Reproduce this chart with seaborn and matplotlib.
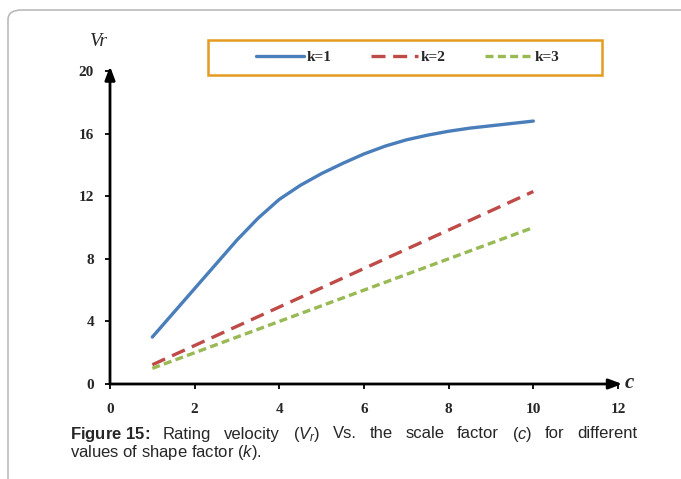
import matplotlib
matplotlib.use("Agg")
import matplotlib.pyplot as plt
import seaborn as sns
import pandas as pd
from matplotlib.patches import FancyBboxPatch, Rectangle

# --------------------------
# DATA
# --------------------------
c_k1 = [1.0, 1.5, 2.0, 2.5, 3.0, 3.5, 4.0, 4.5, 5.0, 5.5, 6.0, 6.5, 7.0, 7.5, 8.0, 8.5, 9.0, 9.5, 10.0]
vr_k1 = [3.0, 4.55, 6.1, 7.65, 9.2, 10.6, 11.8, 12.7, 13.45, 14.1, 14.7, 15.2, 15.6, 15.9, 16.15, 16.35, 16.5, 16.65, 16.8]
c_lin = [1, 2, 3, 4, 5, 6, 7, 8, 9, 10]
vr_k2 = [1.23, 2.46, 3.69, 4.92, 6.15, 7.38, 8.61, 9.84, 11.07, 12.3]
vr_k3 = [1.0, 2.0, 3.0, 4.0, 5.0, 6.0, 7.0, 8.0, 9.0, 10.0]
x_ticks = [0, 2, 4, 6, 8, 10, 12]
y_ticks = [0, 4, 8, 12, 16, 20]
labels = ["k=1", "k=2", "k=3"]

blue = "#4A7EBB"
red = "#BE4B48"
green = "#98B954"

W, H = 681, 479

sns.set_style("white")
plt.rcParams["font.family"] = ["Liberation Serif", "DejaVu Serif"]
plt.rcParams["mathtext.fontset"] = "custom"
plt.rcParams["mathtext.rm"] = "Liberation Sans"
plt.rcParams["mathtext.it"] = "Liberation Sans:italic"
plt.rcParams["mathtext.bf"] = "Liberation Sans:bold"

fig = plt.figure(figsize=(W / 100, H / 100), dpi=100)
ax = fig.add_axes([110 / W, 1 - 384 / H, 508 / W, 313 / H])

df1 = pd.DataFrame({"c": c_k1, "Vr": vr_k1})
df2 = pd.DataFrame({"c": c_lin, "Vr": vr_k2})
df3 = pd.DataFrame({"c": c_lin, "Vr": vr_k3})

sns.lineplot(data=df1, x="c", y="Vr", ax=ax, color=blue, lw=2.4, label=labels[0])
sns.lineplot(data=df2, x="c", y="Vr", ax=ax, color=red, lw=2.4, label=labels[1])
sns.lineplot(data=df3, x="c", y="Vr", ax=ax, color=green, lw=2.4, label=labels[2])
ax.get_legend().remove()
lines = ax.get_lines()
lines[1].set_dashes([4.2, 2.3])
lines[2].set_dashes([2.4, 1.3])

ax.set_xlim(0, 12)
ax.set_ylim(0, 20)
ax.set_xticks(x_ticks)
ax.set_yticks(y_ticks)
ax.set_xlabel("")
ax.set_ylabel("")
for s in ax.spines.values():
    s.set_visible(False)
ax.tick_params(axis="both", direction="out", length=3.5, width=1.3, color="black",
               labelsize=11, left=True, bottom=True)
ax.tick_params(axis="y", pad=8)
ax.tick_params(axis="x", pad=10)
for t in ax.get_xticklabels() + ax.get_yticklabels():
    t.set_fontweight("bold")

# axes with arrows
arrow = dict(arrowstyle="-|>,head_length=0.8,head_width=0.3", lw=2, color="black",
             shrinkA=0, shrinkB=0)
ax.annotate("", xy=(0, 20.3), xytext=(0, 0), arrowprops=arrow, annotation_clip=False)
ax.annotate("", xy=(12.1, 0), xytext=(0, 0), arrowprops=arrow, annotation_clip=False)
fig.text(99 / W, 1 - 42 / H, "Vr", fontsize=14, style="italic", ha="center", va="center")
fig.text(629 / W, 1 - 383 / H, "c", fontsize=15, style="italic", weight="bold",
         ha="center", va="center")

# legend: orange frame drawn separately, entries centred inside
fig.patches.append(Rectangle((208 / W, 1 - 75 / H), 394 / W, 35 / H, transform=fig.transFigure,
                             fill=False, edgecolor="#E49B1F", lw=1.8))
leg = fig.legend(lines[:3], labels, loc="center", bbox_to_anchor=(408 / W, 1 - 57 / H),
                 ncol=3, frameon=False, handlelength=3.1, handletextpad=0.15,
                 columnspacing=2.6, prop={"weight": "bold", "size": 11})

# caption (first line justified)
fs = 12
x0, x1 = 70, 637
line1 = [r"$\mathbf{Figure\ 15\!:}$", "Rating", "velocity", r"($V_r$)", "Vs.", "the", "scale",
         "factor", r"($c$)", "for", "different"]
renderer = fig.canvas.get_renderer()
texts = [fig.text(0, 1 - 434 / H, w, fontsize=fs, family="Liberation Sans", va="center",
                  ha="left") for w in line1]
widths = [t.get_window_extent(renderer).width for t in texts]
gap = (x1 - x0 - sum(widths)) / (len(texts) - 1)
x = x0
for t, w in zip(texts, widths):
    t.set_x(x / W)
    x += w + gap
fig.text(x0 / W, 1 - 453 / H, r"values of shape factor ($k$).",
         fontsize=fs, family="Liberation Sans", va="center", ha="left")

# outer rounded border
border = FancyBboxPatch((8 / W, -0.2), 1.2, 1 - 10 / H + 0.2,
                        boxstyle="round,pad=0,rounding_size=0.02",
                        transform=fig.transFigure, fill=False, edgecolor="#BBBBBB", lw=1.2,
                        clip_on=False)
fig.patches.append(border)

fig.savefig("out.png", dpi=100)
